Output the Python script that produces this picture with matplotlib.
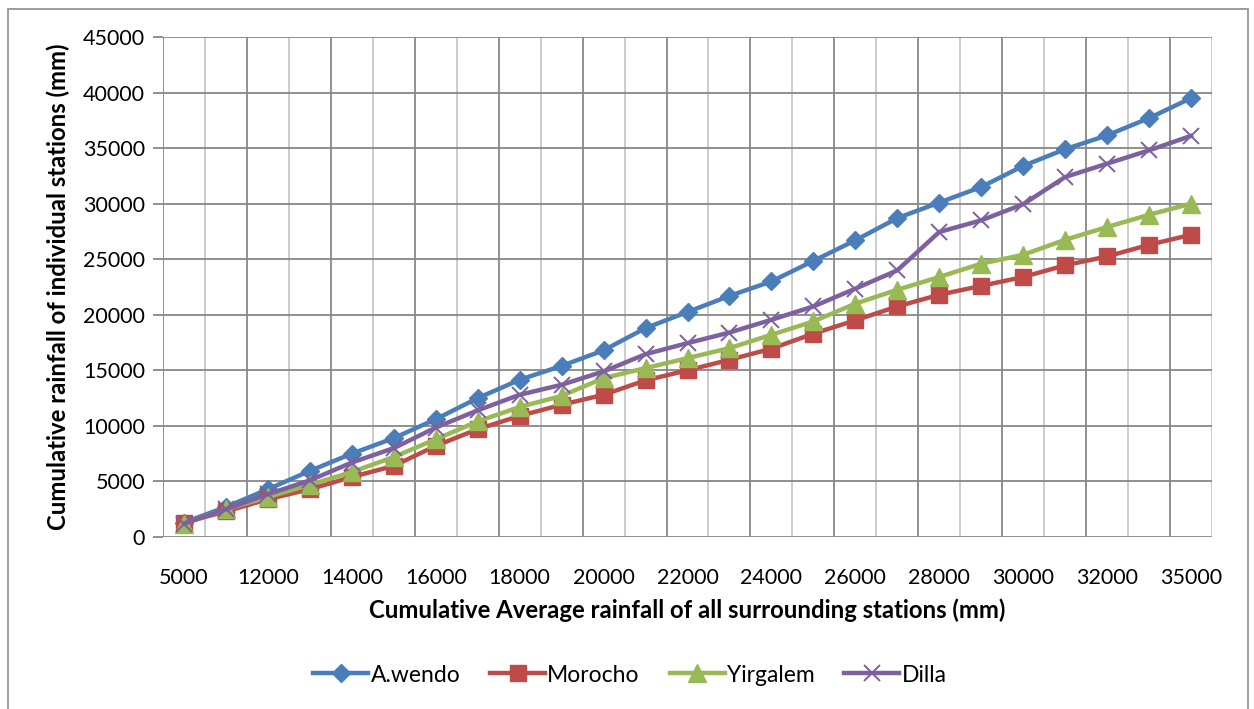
import numpy as np
import matplotlib.pyplot as plt
from matplotlib.patches import Rectangle

# ── Data ─────────────────────────────────────────────────────────────────
tick_labels = ["5000", "12000", "14000", "16000", "18000", "20000", "22000",
               "24000", "26000", "28000", "30000", "32000", "35000"]

awendo   = [1300, 2700, 4300, 5950, 7500, 8900, 10600, 12500, 14150, 15400,
            16800, 18800, 20250, 21700, 23000, 24850, 26700, 28700, 30100,
            31500, 33400, 34900, 36150, 37700, 39500]
morocho  = [1300, 2300, 3400, 4300, 5400, 6400, 8200, 9700, 10900, 11900,
            12800, 14100, 15000, 15950, 16950, 18300, 19500, 20750, 21800,
            22600, 23400, 24450, 25250, 26300, 27200]
yirgalem = [1200, 2500, 3600, 4700, 5850, 7200, 8800, 10400, 11700, 12700,
            14300, 15200, 16100, 17000, 18200, 19400, 21000, 22250, 23400,
            24600, 25400, 26750, 27900, 29000, 30000]
dilla    = [1200, 2500, 3850, 5100, 6700, 8000, 9850, 11400, 12800, 13700,
            14900, 16450, 17450, 18400, 19550, 20750, 22350, 24000, 27450,
            28500, 29950, 32400, 33600, 34800, 36100]

plt.rcParams['font.family'] = ['Lato', 'DejaVu Sans']

W, H = 1254, 709
fig = plt.figure(figsize=(W / 100, H / 100), dpi=100)
ax = fig.add_axes([163 / W, 1 - 537 / H, (1212 - 163) / W, 500 / H])

n = len(awendo)
x = np.arange(n)

# ── Grid: category boundaries alternate dark / light ─────────────────────
dark, light = '#878787', '#c8c8c8'
for b in np.arange(-0.5, n, 1.0):
    k = int(b + 0.5)
    ax.axvline(b, color=dark if k % 2 == 0 else light, lw=1.3, zorder=0)
for v in range(0, 45001, 5000):
    ax.axhline(v, color=dark, lw=1.3, zorder=0)

series = [
    ("A.wendo", awendo, '#4A7EBB', 'D', 9.5),
    ("Morocho", morocho, '#BE4B48', 's', 11.5),
    ("Yirgalem", yirgalem, '#98B954', '^', 13),
    ("Dilla", dilla, '#7D60A0', 'x', 12),
]
for name, vals, col, mk, ms in series:
    ax.plot(x, vals, color=col, lw=3.2, marker=mk, markersize=ms,
            markerfacecolor=col, markeredgecolor=col,
            markeredgewidth=1.4 if mk == 'x' else 1, label=name, zorder=3)

ax.set_xlim(-0.5, n - 0.5)
ax.set_ylim(0, 45000)
ax.set_yticks(range(0, 45001, 5000))
ax.set_xticks(x[::2])
ax.set_xticklabels(tick_labels)
for s in ax.spines.values():
    s.set_visible(False)
ax.tick_params(axis='y', length=7, width=1.3, color=dark, pad=6, labelsize=15.5)
ax.tick_params(axis='x', length=0, pad=22, labelsize=15.5)

ax.set_xlabel("Cumulative Average rainfall of all surrounding stations (mm)",
              fontsize=17.2, fontweight='bold', labelpad=8)
ax.set_ylabel("Cumulative rainfall of individual stations (mm)",
              fontsize=17.2, fontweight='bold', labelpad=9)

fig.legend(loc='center', bbox_to_anchor=(630 / W, 1 - 675 / H), ncol=4,
           frameon=False, fontsize=16.5, handlelength=2.4, columnspacing=1.3,
           handletextpad=0.1)

fig.patches.append(Rectangle((8 / W, -0.05), (1248 - 8) / W, 1 - 9 / H + 0.05,
                             transform=fig.transFigure, fill=False,
                             edgecolor='#8c8c8c', lw=1.2))

fig.savefig("out.png", dpi=100)
